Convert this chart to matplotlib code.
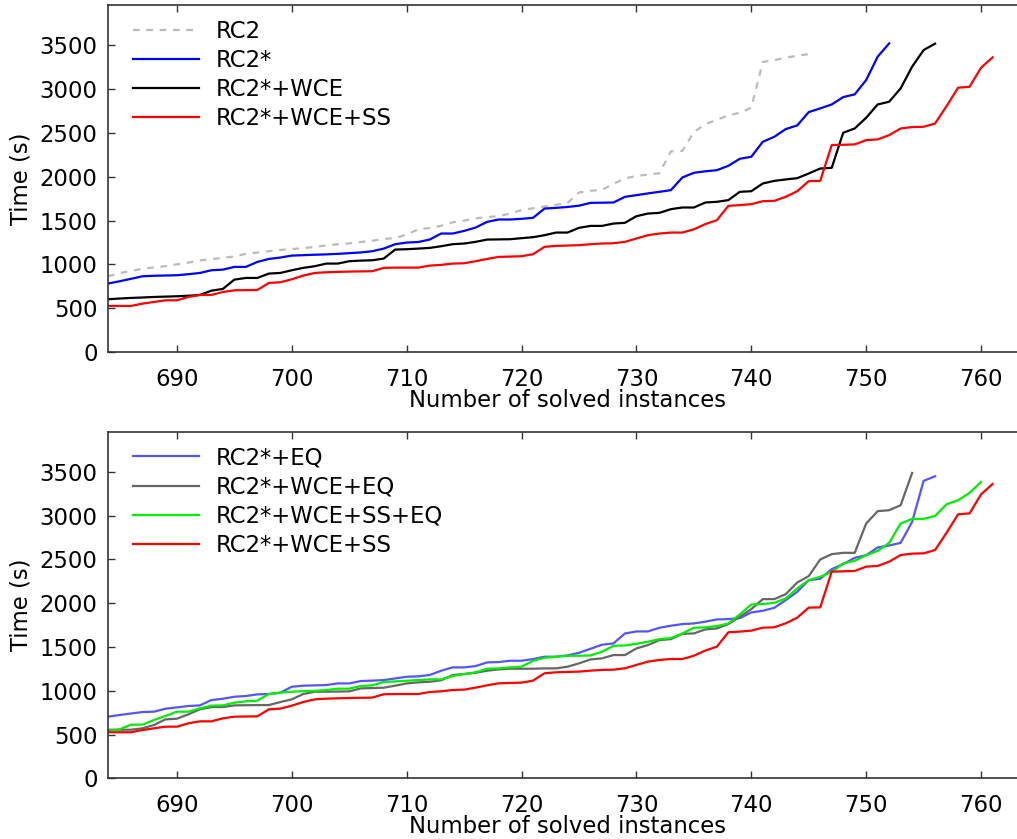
import numpy as np
import matplotlib
matplotlib.use("Agg")
import matplotlib.pyplot as plt

X_START = 684

rc2 = [864, 900, 925, 950, 965, 980, 1000, 1020, 1045, 1060, 1075, 1090, 1120, 1135, 1150, 1165,
       1175, 1185, 1200, 1215, 1230, 1240, 1255, 1270, 1290, 1300, 1340, 1400, 1415, 1440, 1480,
       1500, 1525, 1540, 1550, 1580, 1620, 1640, 1660, 1680, 1700, 1820, 1840, 1850, 1920, 1980,
       2010, 2025, 2040, 2290, 2295, 2510, 2600, 2650, 2700, 2730, 2787, 3310, 3330, 3360, 3380, 3400]

rc2s = [781, 807, 835, 864, 870, 873, 876, 888, 902, 933, 940, 971, 971, 1028, 1062, 1078, 1100,
        1105, 1110, 1114, 1120, 1128, 1136, 1150, 1180, 1230, 1249, 1255, 1283, 1352, 1352, 1382,
        1420, 1485, 1512, 1512, 1520, 1531, 1637, 1645, 1655, 1670, 1702, 1704, 1706, 1771, 1790,
        1810, 1828, 1847, 1992, 2045, 2062, 2075, 2125, 2205, 2228, 2399, 2456, 2544, 2586, 2738,
        2780, 2825, 2909, 2940, 3104, 3370, 3522]

rc2s_wce = [602, 610, 617, 622, 628, 632, 636, 642, 651, 700, 720, 826, 845, 845, 895, 902, 933,
            960, 979, 1009, 1009, 1036, 1043, 1047, 1066, 1169, 1173, 1180, 1188, 1207, 1230, 1238,
            1257, 1283, 1285, 1287, 1299, 1310, 1333, 1363, 1363, 1417, 1439, 1439, 1466, 1474, 1550,
            1580, 1588, 1630, 1649, 1649, 1706, 1714, 1733, 1828, 1835, 1923, 1953, 1969, 1984, 2037,
            2094, 2102, 2502, 2551, 2673, 2825, 2856, 3008, 3256, 3446, 3519]

rc2s_wce_ss = [526, 526, 526, 552, 571, 590, 590, 628, 651, 651, 685, 704, 706, 708, 788, 796, 830,
               872, 902, 910, 914, 918, 920, 922, 960, 963, 963, 963, 986, 994, 1009, 1013, 1036,
               1062, 1085, 1089, 1093, 1116, 1200, 1211, 1215, 1219, 1230, 1238, 1241, 1257, 1295,
               1333, 1352, 1363, 1363, 1400, 1460, 1504, 1668, 1676, 1687, 1721, 1725, 1771, 1835,
               1950, 1953, 2361, 2365, 2369, 2418, 2426, 2475, 2551, 2567, 2570, 2608, 2806, 3016,
               3027, 3244, 3362]

rc2s_eq = [704, 723, 740, 757, 761, 795, 810, 826, 833, 894, 909, 932, 940, 959, 963, 978, 1046,
           1058, 1062, 1065, 1084, 1084, 1111, 1116, 1122, 1141, 1160, 1165, 1180, 1229, 1267, 1267,
           1282, 1324, 1328, 1343, 1343, 1362, 1389, 1389, 1404, 1434, 1480, 1526, 1541, 1655, 1678,
           1678, 1720, 1743, 1762, 1769, 1790, 1815, 1819, 1830, 1895, 1914, 1948, 2036, 2131, 2264,
           2279, 2390, 2447, 2519, 2549, 2637, 2660, 2690, 2930, 3398, 3451]

rc2s_wce_eq = [555, 555, 555, 571, 609, 673, 681, 731, 788, 814, 814, 833, 835, 836, 837, 871, 902,
               963, 989, 990, 991, 993, 1027, 1031, 1035, 1058, 1084, 1096, 1103, 1119, 1180, 1191,
               1206, 1229, 1244, 1252, 1252, 1252, 1256, 1256, 1275, 1313, 1358, 1370, 1408, 1408,
               1484, 1522, 1579, 1590, 1651, 1655, 1701, 1712, 1762, 1845, 1933, 2047, 2047, 2104,
               2237, 2310, 2500, 2561, 2576, 2576, 2911, 3052, 3063, 3120, 3489]

rc2s_wce_ss_eq = [544, 559, 613, 613, 666, 712, 761, 761, 799, 830, 833, 864, 879, 887, 963, 978,
                  989, 995, 1000, 1008, 1024, 1024, 1054, 1062, 1100, 1107, 1115, 1122, 1130, 1130,
                  1168, 1191, 1210, 1252, 1256, 1267, 1275, 1343, 1377, 1389, 1400, 1400, 1404, 1446,
                  1514, 1518, 1537, 1560, 1590, 1602, 1655, 1720, 1724, 1739, 1769, 1872, 1986, 1990,
                  2005, 2055, 2169, 2264, 2302, 2359, 2454, 2485, 2549, 2599, 2690, 2911, 2964, 2964,
                  2998, 3131, 3177, 3261, 3386]

x_ticks = [690, 700, 710, 720, 730, 740, 750, 760]
y_ticks = [0, 500, 1000, 1500, 2000, 2500, 3000, 3500]


def xs(vals):
    return np.arange(X_START, X_START + len(vals))


plt.rcParams['font.family'] = ['DejaVu Sans']
FS = 16.4

fig = plt.figure(figsize=(10.17, 8.39), dpi=100)
left = 108 / 1017
width = 919 / 1017
ax1 = fig.add_axes([left, 1 - 352 / 839, width, 347 / 839])
ax2 = fig.add_axes([left, 1 - 778.3 / 839, width, 346.6 / 839])

LW = 1.6
ax1.plot(xs(rc2), rc2, color='#bbbbbb', ls=(0, (3, 3)), lw=LW, label='RC2')
ax1.plot(xs(rc2s), rc2s, color='#0000ff', lw=LW, label='RC2*')
ax1.plot(xs(rc2s_wce), rc2s_wce, color='#000000', lw=LW, label='RC2*+WCE')
ax1.plot(xs(rc2s_wce_ss), rc2s_wce_ss, color='#ff0000', lw=LW, label='RC2*+WCE+SS')

ax2.plot(xs(rc2s_eq), rc2s_eq, color='#5555ff', lw=LW, label='RC2*+EQ')
ax2.plot(xs(rc2s_wce_eq), rc2s_wce_eq, color='#666666', lw=LW, label='RC2*+WCE+EQ')
ax2.plot(xs(rc2s_wce_ss_eq), rc2s_wce_ss_eq, color='#00ee00', lw=LW, label='RC2*+WCE+SS+EQ')
ax2.plot(xs(rc2s_wce_ss), rc2s_wce_ss, color='#ff0000', lw=LW, label='RC2*+WCE+SS')

for ax in (ax1, ax2):
    ax.set_xlim(684, 764)
    ax.set_ylim(0, 3960)
    ax.set_xticks(x_ticks)
    ax.set_yticks(y_ticks)
    ax.tick_params(direction='in', top=True, right=True, length=5.3, width=1,
                   labelsize=FS, color='#333333')
    ax.tick_params(axis='y', pad=7.5)
    ax.tick_params(axis='x', pad=11.5)
    for s in ax.spines.values():
        s.set_color('#333333')
        s.set_linewidth(1.2)
    ax.set_xlabel('Number of solved instances', fontsize=FS, labelpad=-1.5)
    ax.set_ylabel('Time (s)', fontsize=FS, labelpad=5)
    ax.legend(loc='upper left', frameon=False, fontsize=FS, handlelength=2.9,
              handletextpad=0.72, labelspacing=0.27, borderaxespad=0.0,
              bbox_to_anchor=(0.0172, 0.984))

fig.savefig('out.png', dpi=100)
